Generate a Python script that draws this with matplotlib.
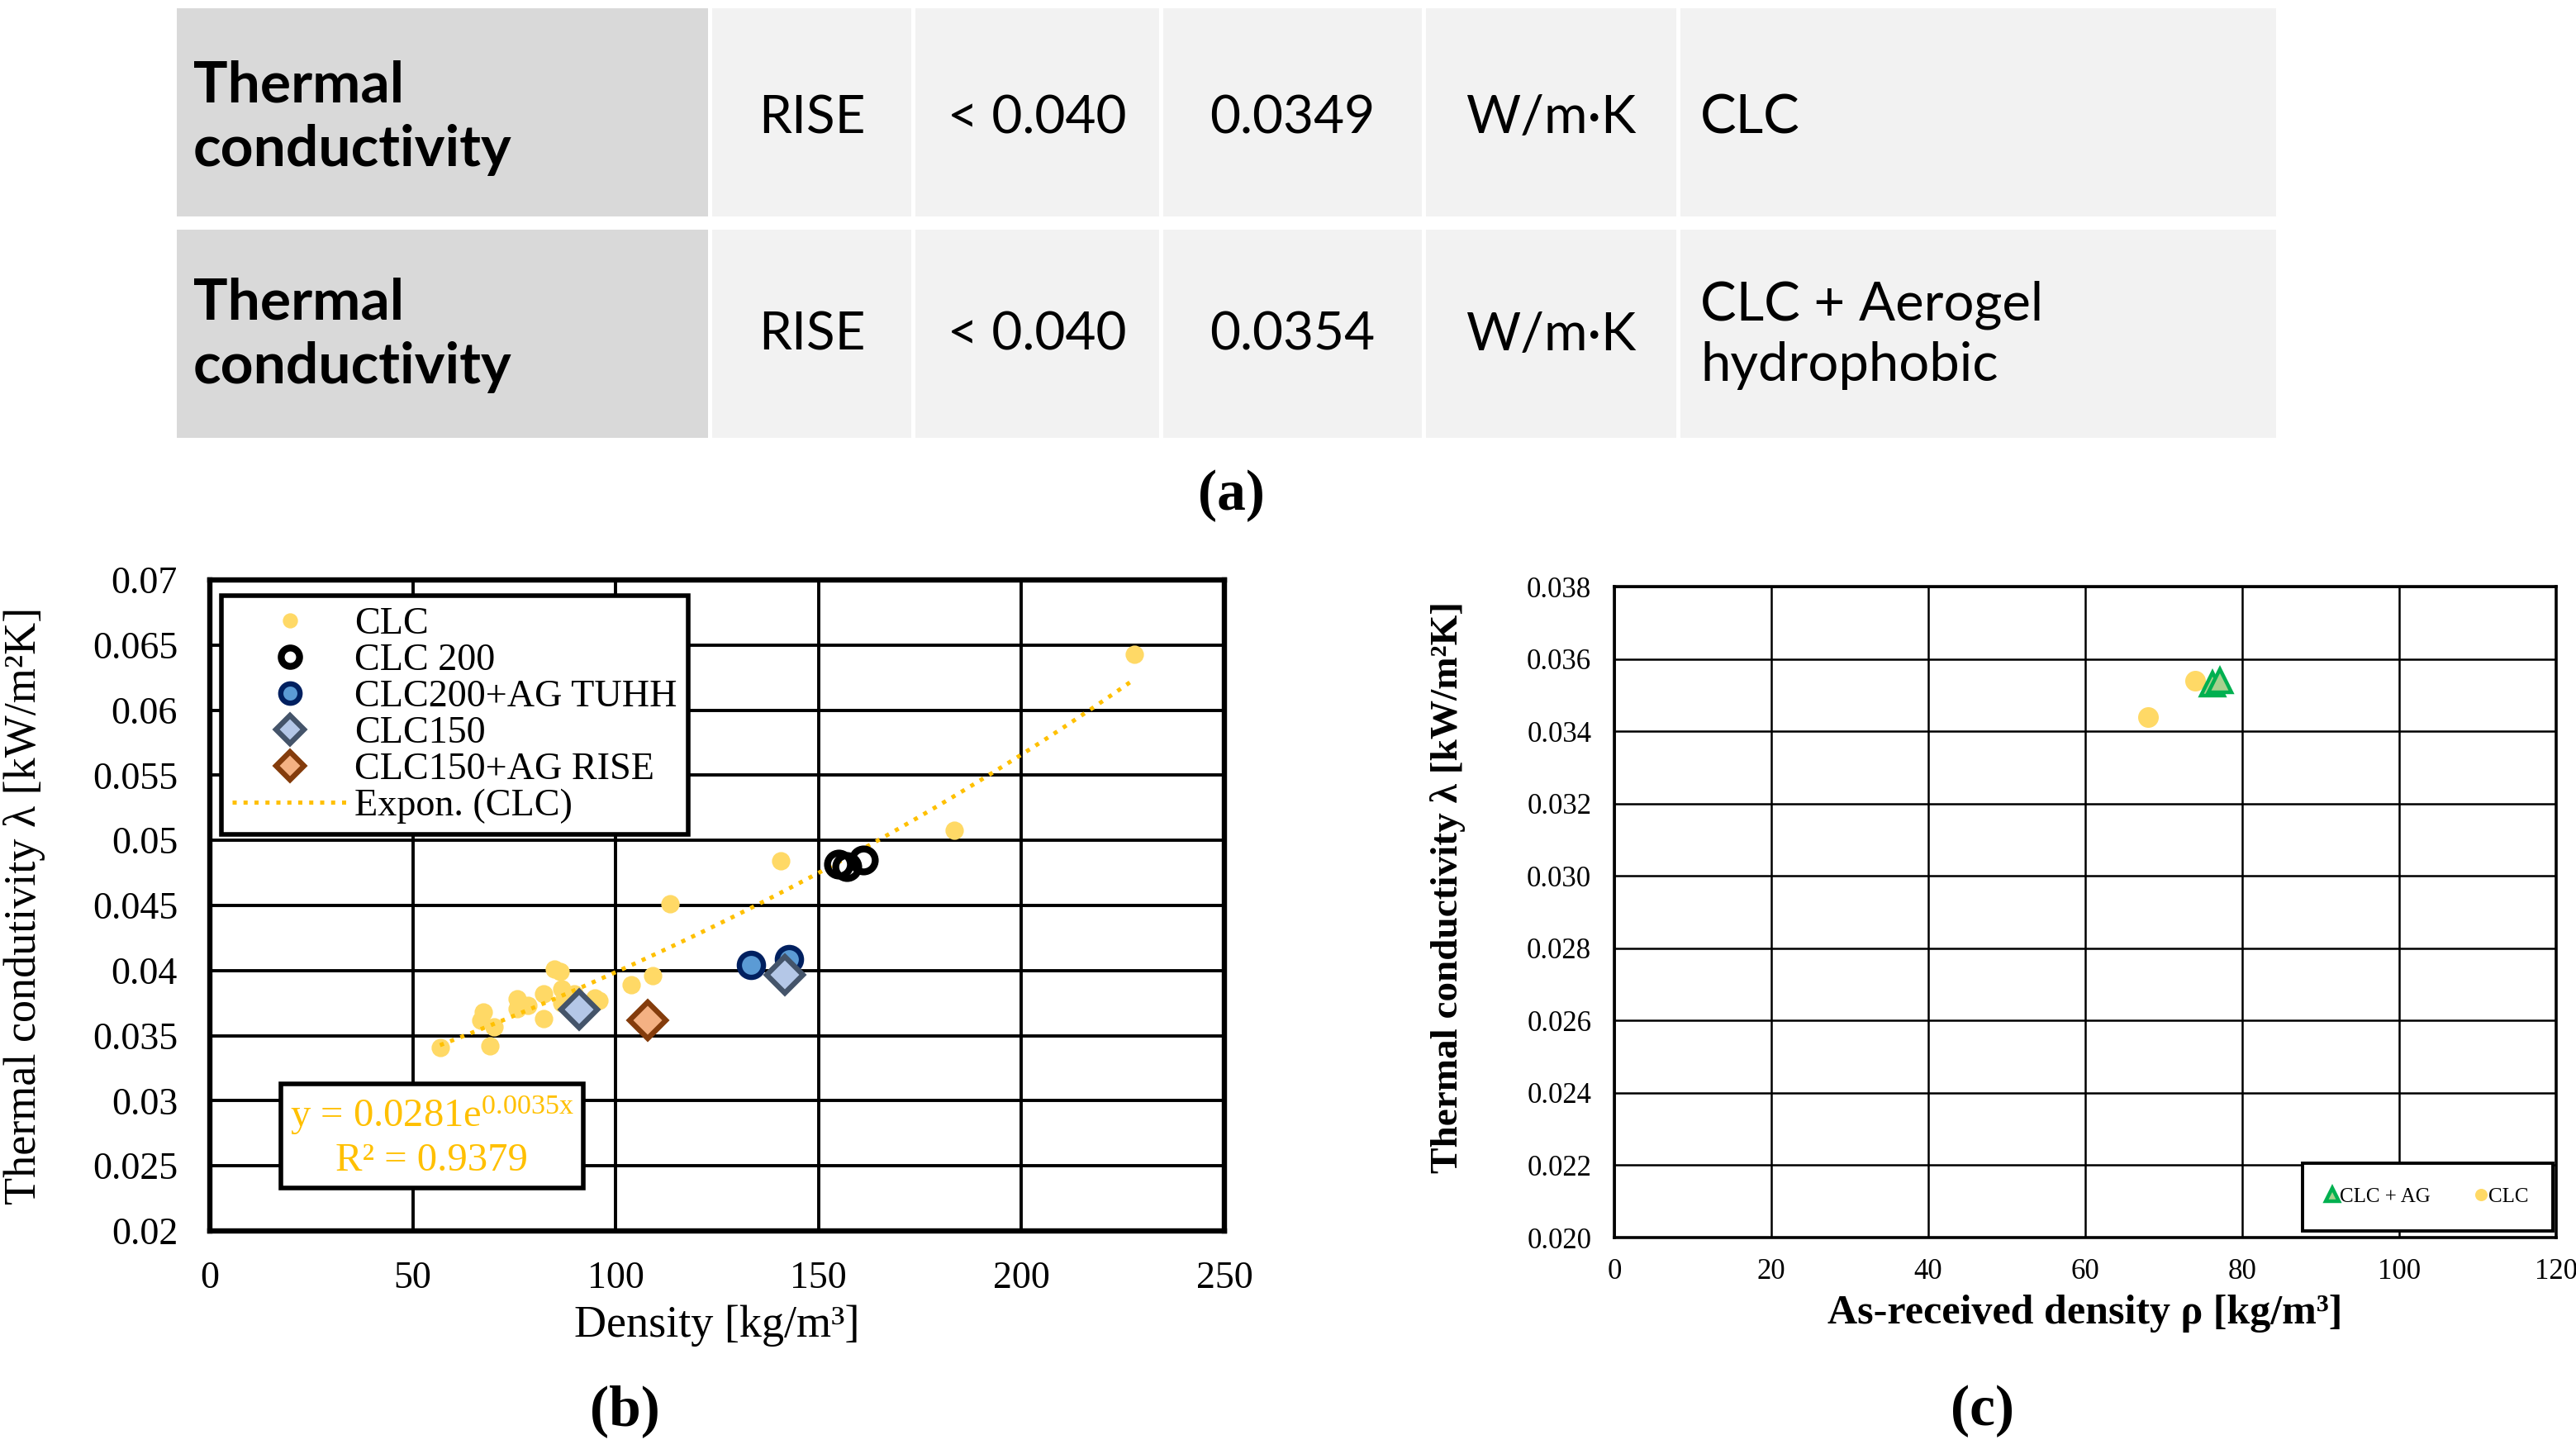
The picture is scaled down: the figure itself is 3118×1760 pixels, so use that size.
import numpy as np
import matplotlib
matplotlib.use("Agg")
import matplotlib.pyplot as plt
from matplotlib.patches import Rectangle

plt.rcParams["font.family"] = ["Liberation Serif", "DejaVu Serif"]
plt.rcParams["mathtext.fontset"] = "custom"
plt.rcParams["mathtext.rm"] = "Liberation Serif"
plt.rcParams["mathtext.it"] = "Liberation Serif:italic"

# ---- table (a) ----
row_labels = ["Thermal\nconductivity", "Thermal\nconductivity"]
methods = ["RISE", "RISE"]
limits = ["< 0.040", "< 0.040"]
measured = ["0.0349", "0.0354"]
units = ["W/m·K", "W/m·K"]
materials = ["CLC", "CLC + Aerogel\nhydrophobic"]

# ---- panel (b) data ----
clc_x = [56.7, 69.1, 67.3, 66.7, 70.0, 75.8, 75.8, 78.4, 82.2, 82.2, 84.8, 86.4,
         86.8, 86.8, 89.8, 94.9, 95.8, 103.9, 109.1, 113.3, 140.7, 183.5, 227.9]
clc_y = [0.0341, 0.0342, 0.0368, 0.0362, 0.0357, 0.0378, 0.0371, 0.0373, 0.0382,
         0.0363, 0.0401, 0.0399, 0.0386, 0.0375, 0.0382, 0.0379, 0.0377, 0.0389,
         0.0396, 0.0451, 0.0484, 0.0508, 0.0643]
clc200_x = [155.0, 157.0, 161.0]
clc200_y = [0.0482, 0.0480, 0.0485]
clc200ag_x = [133.4, 142.7]
clc200ag_y = [0.0404, 0.0409]
clc150_x = [91.0, 141.7]
clc150_y = [0.0370, 0.0397]
clc150ag_x = [107.9]
clc150ag_y = [0.0362]
fit_a = 0.0281
fit_b = 0.0035
fit_r2 = 0.9379

# ---- panel (c) data ----
c_clc_x = [68.0, 74.0]
c_clc_y = [0.0344, 0.0354]
c_ag_x = [76.2, 77.2]
c_ag_y = [0.0353, 0.0354]

W, H = 3118, 1760
fig = plt.figure(figsize=(W / 200, H / 200), dpi=200)

# table drawn in pixel units
col_edges = [214, 862, 1108, 1408, 1726, 2034, 2760]
row_edges = [(10, 262), (278, 530)]
row_shift = [7, 2]
gap = 5
ax_t = fig.add_axes([0, 0, 1, 1])
ax_t.set_xlim(0, W)
ax_t.set_ylim(H, 0)
ax_t.axis("off")
tfont = ["Lato", "DejaVu Sans"]
for r, (y0, y1) in enumerate(row_edges):
    cells = [row_labels[r], methods[r], limits[r], measured[r], units[r], materials[r]]
    yc = (y0 + y1) / 2 + row_shift[r]
    for c in range(6):
        x0, x1 = col_edges[c], col_edges[c + 1]
        fc = "#D9D9D9" if c == 0 else "#F2F2F2"
        ax_t.add_patch(Rectangle((x0, y0), x1 - x0 - gap, y1 - y0, fc=fc, ec="none"))
        if c == 0:
            ax_t.text(x0 + 20, yc, cells[c], ha="left", va="center", fontsize=25,
                      fontweight="bold", family=tfont, linespacing=1.28)
        elif c == 5:
            ax_t.text(x0 + 24, yc, cells[c], ha="left", va="center", fontsize=23.5,
                      family=tfont, linespacing=1.3)
        else:
            ax_t.text((x0 + x1 - gap) / 2, yc, cells[c], ha="center", va="center",
                      fontsize=23, family=tfont)

fig.text(1490 / W, 1 - 600 / H, "(a)", ha="center", va="center", fontsize=25, fontweight="bold")
fig.text(756 / W, 1 - 1708 / H, "(b)", ha="center", va="center", fontsize=25, fontweight="bold")
fig.text(2400 / W, 1 - 1708 / H, "(c)", ha="center", va="center", fontsize=25, fontweight="bold")

# ---- panel (b) ----
ax1 = fig.add_axes([254 / W, 1 - 1490 / H, 1228 / W, 788 / H])
ax1.set_xlim(0, 250)
ax1.set_ylim(0.02, 0.07)
ax1.set_xticks(np.arange(0, 251, 50))
ax1.set_yticks(np.arange(0.02, 0.0701, 0.005))
ax1.set_yticklabels([f"{v:g}" for v in np.round(np.arange(0.02, 0.0701, 0.005), 3)])
ax1.grid(True, color="black", lw=1.4)
ax1.set_axisbelow(True)
for s in ax1.spines.values():
    s.set_linewidth(2.3)
ax1.tick_params(length=0, labelsize=16.5)
ax1.tick_params(axis="y", pad=14)
ax1.tick_params(axis="x", pad=13)

ax1.plot(clc_x, clc_y, "o", ms=7, color="#FFD966", mec="#FFD966", label="CLC", zorder=3)
ax1.plot(clc200_x, clc200_y, "o", ms=10, mfc="none", mec="black", mew=3.0, label="CLC 200", zorder=4)
ax1.plot(clc200ag_x, clc200ag_y, "o", ms=10.5, mfc="#5B9BD5", mec="#002060", mew=2.3,
         label="CLC200+AG TUHH", zorder=4)
ax1.plot(clc150_x, clc150_y, "D", ms=11, mfc="#B4C7E7", mec="#44546A", mew=2.3,
         label="CLC150", zorder=5)
ax1.plot(clc150ag_x, clc150ag_y, "D", ms=11, mfc="#F4B183", mec="#843C0C", mew=2.3,
         label="CLC150+AG RISE", zorder=5)
xf = np.linspace(min(clc_x), max(clc_x), 100)
ax1.plot(xf, fit_a * np.exp(fit_b * xf), ":", color="#FFC000", lw=1.8,
         label="Expon. (CLC)", zorder=3)

leg1 = ax1.legend(loc="upper left", bbox_to_anchor=(0.011, 0.976), borderaxespad=0,
                  fontsize=16.6, frameon=True, fancybox=False, handlelength=3.0,
                  labelspacing=0.03, borderpad=0.3, handletextpad=0.2, markerscale=0.8)
leg1.get_frame().set_edgecolor("black")
leg1.get_frame().set_linewidth(2.0)
leg1.get_frame().set_alpha(1)

ax1.text(0.219, 0.145, f"y = {fit_a}e$^{{\\mathregular{{{fit_b}x}}}}$\nR² = {fit_r2}",
         transform=ax1.transAxes, ha="center", va="center", fontsize=17.5, color="#FFC000",
         linespacing=1.2, bbox=dict(boxstyle="square,pad=0.22", fc="white", ec="black", lw=2.0),
         zorder=6)

ax1.text(-0.183, 0.5, "Thermal condutivity λ [kW/m²K]", transform=ax1.transAxes,
         rotation=90, ha="center", va="center", fontsize=19.5)
ax1.text(0.5, -0.145, "Density [kg/m³]", transform=ax1.transAxes,
         ha="center", va="center", fontsize=19.5)

# ---- panel (c) ----
ax2 = fig.add_axes([1954 / W, 1 - 1498 / H, 1140 / W, 788 / H])
ax2.set_xlim(0, 120)
ax2.set_ylim(0.020, 0.038)
ax2.set_xticks(np.arange(0, 121, 20))
yt = np.arange(0.020, 0.0381, 0.002)
ax2.set_yticks(yt)
ax2.set_yticklabels([f"{v:.3f}" for v in yt])
ax2.grid(True, color="black", lw=0.9)
ax2.set_axisbelow(True)
for s in ax2.spines.values():
    s.set_linewidth(1.3)
ax2.tick_params(length=0, labelsize=12.5)
ax2.tick_params(axis="y", pad=10)
ax2.tick_params(axis="x", pad=9)

ax2.plot(c_ag_x, c_ag_y, "^", ms=10, mfc="#A9D18E", mec="#00B050", mew=1.6,
         label="CLC + AG", zorder=4)
ax2.plot(c_clc_x, c_clc_y, "o", ms=8, color="#FFD966", mec="#FFD966", label="CLC", zorder=3)

leg2 = ax2.legend(loc="lower right", bbox_to_anchor=(0.9965, 0.01), borderaxespad=0,
                  ncol=2, fontsize=9, frameon=True, fancybox=False, handlelength=0.5,
                  handletextpad=0.1, columnspacing=2.2, borderpad=1.2, markerscale=0.55)
leg2.get_frame().set_edgecolor("black")
leg2.get_frame().set_linewidth(1.4)
leg2.get_frame().set_alpha(1)

ax2.text(-0.177, 0.538, "Thermal conductivity λ [kW/m²K]", transform=ax2.transAxes,
         rotation=90, ha="center", va="center", fontsize=17, fontweight="bold")
ax2.text(0.5, -0.117, "As-received density ρ [kg/m³]", transform=ax2.transAxes,
         ha="center", va="center", fontsize=18, fontweight="bold")

fig.savefig("out.png", dpi=200)
